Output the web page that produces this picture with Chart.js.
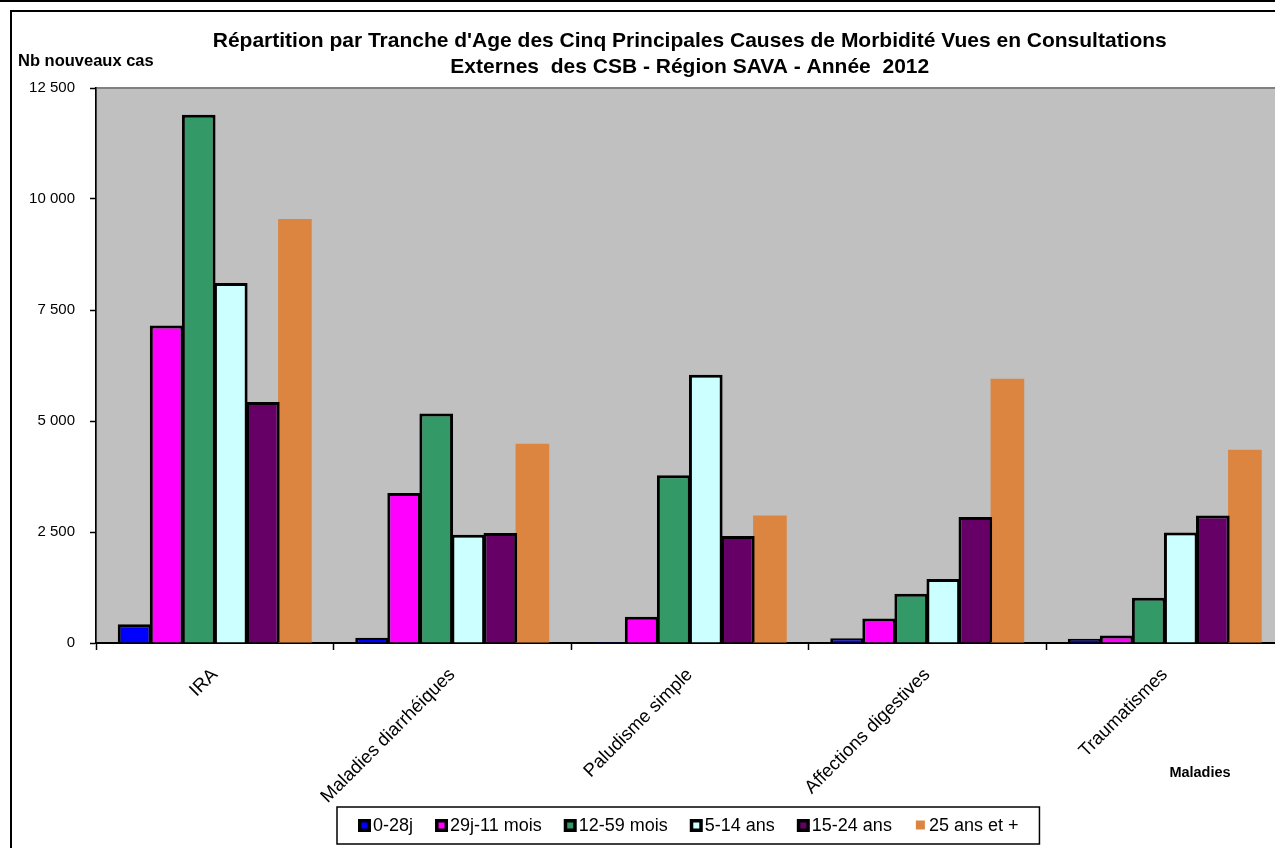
<!DOCTYPE html>
<html>
<head>
<meta charset="utf-8">
<script src="https://cdn.jsdelivr.net/npm/chart.js@4"></script>
<style>
    html, body { margin: 0; padding: 0; overflow: hidden; background: #fff; }
    #wrap { position: absolute; left: 0; top: 0; width: 1290px; height: 848px; }
</style>
</head>
<body>
<div id="wrap"><canvas id="morbiditeChart" width="1290" height="848"></canvas></div>
<script>
// Categories (maladies) and age groups
const maladies = ['IRA', 'Maladies diarrhéiques', 'Paludisme simple', 'Affections digestives', 'Traumatismes'];
const tranches = ['0-28j', '29j-11 mois', '12-59 mois', '5-14 ans', '15-24 ans', '25 ans et +'];

// Nb nouveaux cas per tranche d'age
const cas0a28j = [420, 120, 25, 105, 95];
const cas29jA11mois = [7150, 3380, 590, 550, 170];
const cas12a59mois = [11900, 5170, 3780, 1110, 1020];
const cas5a14ans = [8110, 2440, 6040, 1440, 2490];
const cas15a24ans = [5430, 2480, 2410, 2840, 2870];
const cas25ansPlus = [9550, 4490, 2870, 5950, 4350];

const yTicks = [0, 2500, 5000, 7500, 10000, 12500];

const couleurs = ['#0000FF', '#FF00FF', '#339966', '#CCFFFF', '#660066', '#DB8540'];
const series = [cas0a28j, cas29jA11mois, cas12a59mois, cas5a14ans, cas15a24ans, cas25ansPlus];

const FONT = '"Liberation Sans", Arial, sans-serif';
Chart.defaults.font.family = FONT;
Chart.defaults.color = '#000';

function formatNb(v) {
    return String(v).replace(/\B(?=(\d{3})+(?!\d))/g, ' ');
}

// background, frame, extra texts and the boxed legend
const decorPlugin = {
    id: 'decor',
    beforeDraw(chart) {
        const ctx = chart.ctx;
        const a = chart.chartArea;
        ctx.save();
        ctx.fillStyle = '#fff';
        ctx.fillRect(0, 0, chart.width, chart.height);
        // outer lines
        ctx.strokeStyle = '#000';
        ctx.lineWidth = 2;
        ctx.beginPath();
        ctx.moveTo(0, 1); ctx.lineTo(chart.width, 1);
        ctx.moveTo(11, chart.height + 5); ctx.lineTo(11, 11); ctx.lineTo(chart.width + 5, 11);
        ctx.stroke();
        // plot area
        ctx.fillStyle = '#C0C0C0';
        ctx.fillRect(a.left, a.top, a.right - a.left, a.bottom - a.top);
        ctx.strokeStyle = '#808080';
        ctx.lineWidth = 2;
        ctx.strokeRect(a.left, a.top, a.right - a.left, a.bottom - a.top);
        ctx.restore();
    },
    afterDraw(chart) {
        const ctx = chart.ctx;
        ctx.save();
        ctx.fillStyle = '#000';
        ctx.textBaseline = 'middle';
        ctx.font = 'bold 16.5px ' + FONT;
        ctx.textAlign = 'left';
        ctx.fillText('Nb nouveaux cas', 18, 61);
        ctx.font = 'bold 14.5px ' + FONT;
        ctx.textAlign = 'center';
        ctx.fillText('Maladies', 1200, 773);

        // legend
        ctx.font = '18px ' + FONT;
        ctx.textAlign = 'left';
        const sw = 13, gap = 2, between = 22, pad = 21;
        const items = chart.data.datasets.map(ds => ({ ds, w: ctx.measureText(ds.label).width }));
        let total = 0;
        items.forEach((it, i) => { total += sw + gap + it.w + (i < items.length - 1 ? between : 0); });
        const boxW = total + pad * 2;
        const boxL = Math.round(688 - boxW / 2);
        const boxT = 807, boxH = 37;
        ctx.fillStyle = '#fff';
        ctx.fillRect(boxL, boxT, boxW, boxH);
        ctx.strokeStyle = '#000';
        ctx.lineWidth = 1.5;
        ctx.strokeRect(boxL, boxT, boxW, boxH);
        let x = boxL + pad;
        const cy = boxT + boxH / 2;
        items.forEach(it => {
            if (it.ds.borderWidth === 0) {
                ctx.fillStyle = it.ds.backgroundColor;
                ctx.fillRect(x + 2, cy - 5, 9, 9);
            } else {
                ctx.fillStyle = '#000';
                ctx.fillRect(x, cy - 6.5, sw, sw);
                ctx.fillStyle = it.ds.backgroundColor;
                ctx.fillRect(x + 3.5, cy - 3, 6, 6);
            }
            x += sw + gap;
            ctx.fillStyle = '#000';
            ctx.fillText(it.ds.label, x, cy + 1);
            x += it.w + between;
        });
        ctx.restore();
    }
};

const ctx = document.getElementById('morbiditeChart').getContext('2d');
const morbiditeChart = new Chart(ctx, {
    type: 'bar',
    data: {
        labels: maladies,
        datasets: tranches.map((t, i) => ({
            label: t,
            data: series[i],
            backgroundColor: couleurs[i],
            borderColor: '#000',
            borderWidth: i === 5 ? 0 : 3,
            borderSkipped: 'bottom'
        }))
    },
    options: {
        responsive: false,
        animation: false,
        categoryPercentage: 0.81,
        barPercentage: 1.05,
        layout: { padding: { left: 0, right: 6.5, top: 0, bottom: 0 } },
        plugins: {
            legend: { display: false },
            tooltip: { enabled: false },
            title: {
                display: true,
                fullSize: false,
                text: [
                    "Répartition par Tranche d'Age des Cinq Principales Causes de Morbidité Vues en Consultations",
                    'Externes  des CSB - Région SAVA - Année  2012'
                ],
                font: { size: 21, weight: 'bold', lineHeight: 1.2 },
                color: '#000',
                padding: { top: 29, bottom: 8.6 }
            }
        },
        scales: {
            x: {
                afterFit(scale) { scale.height = 205; },
                grid: { drawOnChartArea: false, offset: true, tickLength: 7, tickColor: '#000', tickWidth: 1.5 },
                border: { color: '#000', width: 2 },
                ticks: {
                    minRotation: 45,
                    maxRotation: 45,
                    padding: 14,
                    font: { size: 18.5 },
                    color: '#000'
                }
            },
            y: {
                min: 0,
                max: 12500,
                afterFit(scale) { scale.width = 96; },
                afterBuildTicks(scale) { scale.ticks = yTicks.map(v => ({ value: v })); },
                grid: { drawOnChartArea: false, tickLength: 6, tickColor: '#000', tickWidth: 1.5 },
                border: { color: '#000', width: 1.5 },
                ticks: {
                    padding: 15,
                    font: { size: 15 },
                    color: '#000',
                    callback: v => formatNb(v)
                }
            }
        }
    },
    plugins: [decorPlugin]
});
</script>
</body>
</html>
